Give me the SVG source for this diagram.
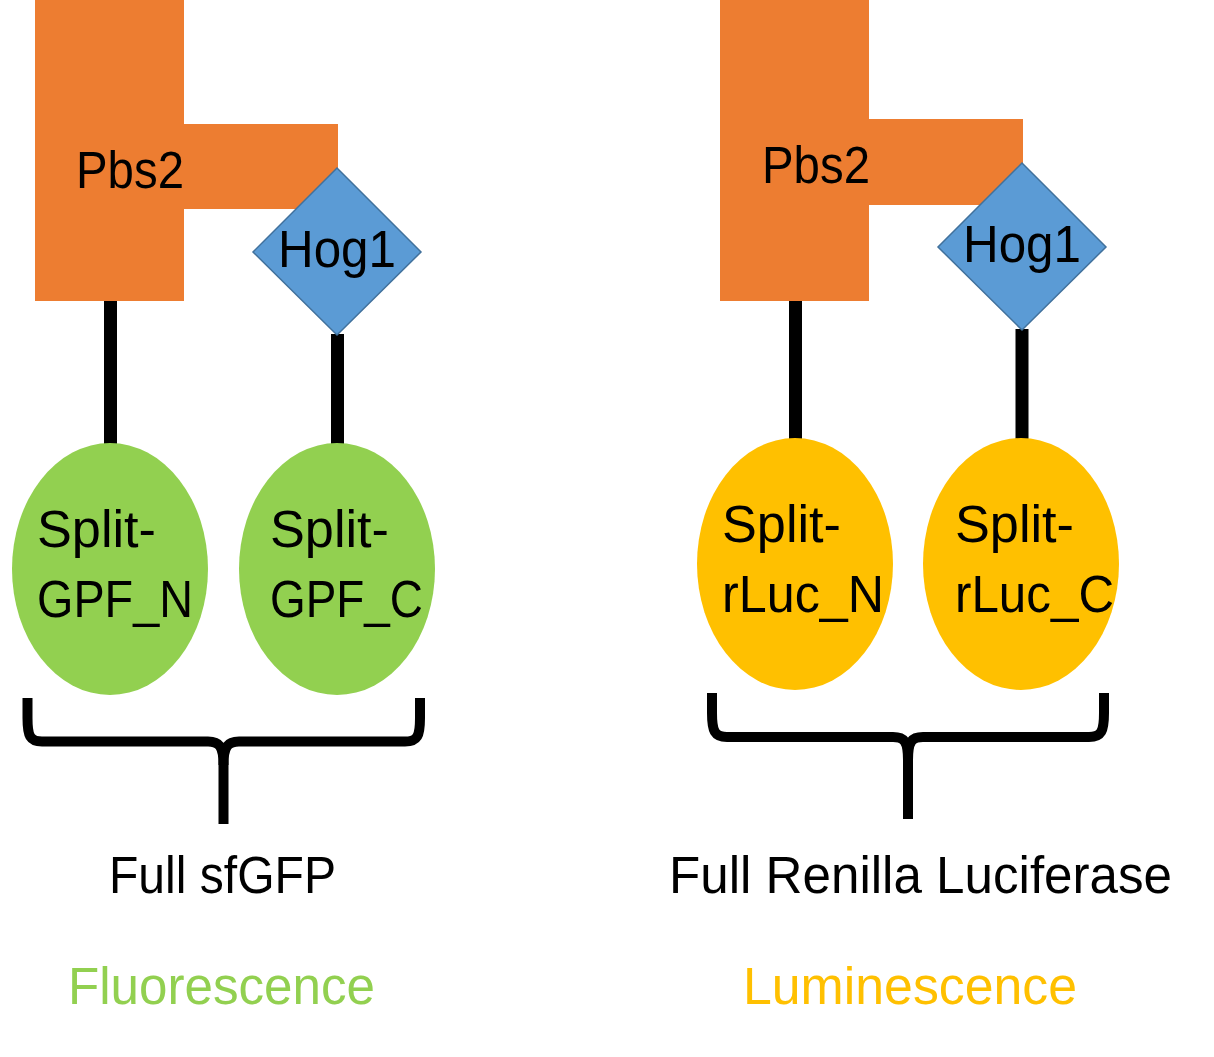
<svg xmlns="http://www.w3.org/2000/svg" width="1214" height="1057" viewBox="0 0 1214 1057">
<style>
text{font-family:"Liberation Sans",Arial,sans-serif;font-size:51px;fill:#000}
.pbs{fill:#ED7D31}
.hog{fill:#5B9BD5;stroke:#41719C;stroke-width:1.5}
.gfp{fill:#92D050}
.luc{fill:#FFC000}
.stub{stroke:#000;stroke-width:13;fill:none}
.brace{stroke:#000;stroke-width:10;fill:none}
</style>
<rect width="1214" height="1057" fill="#fff"/>
<g id="connectors">
<line class="stub" x1="110.5" y1="300" x2="110.5" y2="445"/>
<line class="stub" x1="337.5" y1="334" x2="337.5" y2="445"/>
<line class="stub" x1="795.5" y1="300" x2="795.5" y2="440"/>
<line class="stub" x1="1022" y1="329" x2="1022" y2="440"/>
</g>
<g id="pbs2-left">
<path class="pbs" d="M35 0H184V124H338V209H184V301H35Z"/>
<text x="76" y="188" textLength="108" lengthAdjust="spacingAndGlyphs">Pbs2</text>
</g>
<g id="hog1-left">
<polygon class="hog" points="337,168 421,252 337,335 253,252"/>
<text x="278" y="267" textLength="118" lengthAdjust="spacingAndGlyphs">Hog1</text>
</g>
<g id="pbs2-right">
<path class="pbs" d="M720 0H869V119H1023V205H869V301H720Z"/>
<text x="762" y="183" textLength="108" lengthAdjust="spacingAndGlyphs">Pbs2</text>
</g>
<g id="hog1-right">
<polygon class="hog" points="1022,163 1106,247 1022,330 938,247"/>
<text x="963" y="262" textLength="118" lengthAdjust="spacingAndGlyphs">Hog1</text>
</g>
<g id="split-gfp-n">
<ellipse class="gfp" cx="110" cy="569" rx="98" ry="126"/>
<text x="37" y="547" textLength="119" lengthAdjust="spacingAndGlyphs">Split-</text>
<text x="37" y="617" textLength="156" lengthAdjust="spacingAndGlyphs">GPF_N</text>
</g>
<g id="split-gfp-c">
<ellipse class="gfp" cx="337" cy="569" rx="98" ry="126"/>
<text x="270" y="547" textLength="119" lengthAdjust="spacingAndGlyphs">Split-</text>
<text x="270" y="617" textLength="153" lengthAdjust="spacingAndGlyphs">GPF_C</text>
</g>
<g id="split-rluc-n">
<ellipse class="luc" cx="795" cy="564" rx="98" ry="126"/>
<text x="722" y="542" textLength="119" lengthAdjust="spacingAndGlyphs">Split-</text>
<text x="722" y="612" textLength="162" lengthAdjust="spacingAndGlyphs">rLuc_N</text>
</g>
<g id="split-rluc-c">
<ellipse class="luc" cx="1021" cy="564" rx="98" ry="126"/>
<text x="955" y="542" textLength="119" lengthAdjust="spacingAndGlyphs">Split-</text>
<text x="955" y="612" textLength="159" lengthAdjust="spacingAndGlyphs">rLuc_C</text>
</g>
<g id="brace-left">
<path class="brace" d="M27.5 698V718C27.5 736 30 741.5 42 741.5H208C219 741.5 223.5 746 223.5 765V824"/>
<path class="brace" d="M420 698V718C420 736 417.5 741.5 405 741.5H239C228 741.5 223.5 746 223.5 765"/>
</g>
<g id="brace-right">
<path class="brace" d="M712 693V713C712 731 714.5 737 727 737H893C904 737 908 741 908 760V819"/>
<path class="brace" d="M1104 693V713C1104 731 1101.5 737 1089 737H923C912 737 908 741 908 760"/>
</g>
<g id="label-sfgfp">
<text x="109" y="893" textLength="227" lengthAdjust="spacingAndGlyphs">Full sfGFP</text>
</g>
<g id="label-fluorescence">
<text x="68" y="1004" textLength="307" lengthAdjust="spacingAndGlyphs" style="fill:#92D050">Fluorescence</text>
</g>
<g id="label-renilla">
<text x="669" y="893" textLength="503" lengthAdjust="spacingAndGlyphs">Full Renilla Luciferase</text>
</g>
<g id="label-luminescence">
<text x="743" y="1004" textLength="334" lengthAdjust="spacingAndGlyphs" style="fill:#FFC000">Luminescence</text>
</g>
</svg>
